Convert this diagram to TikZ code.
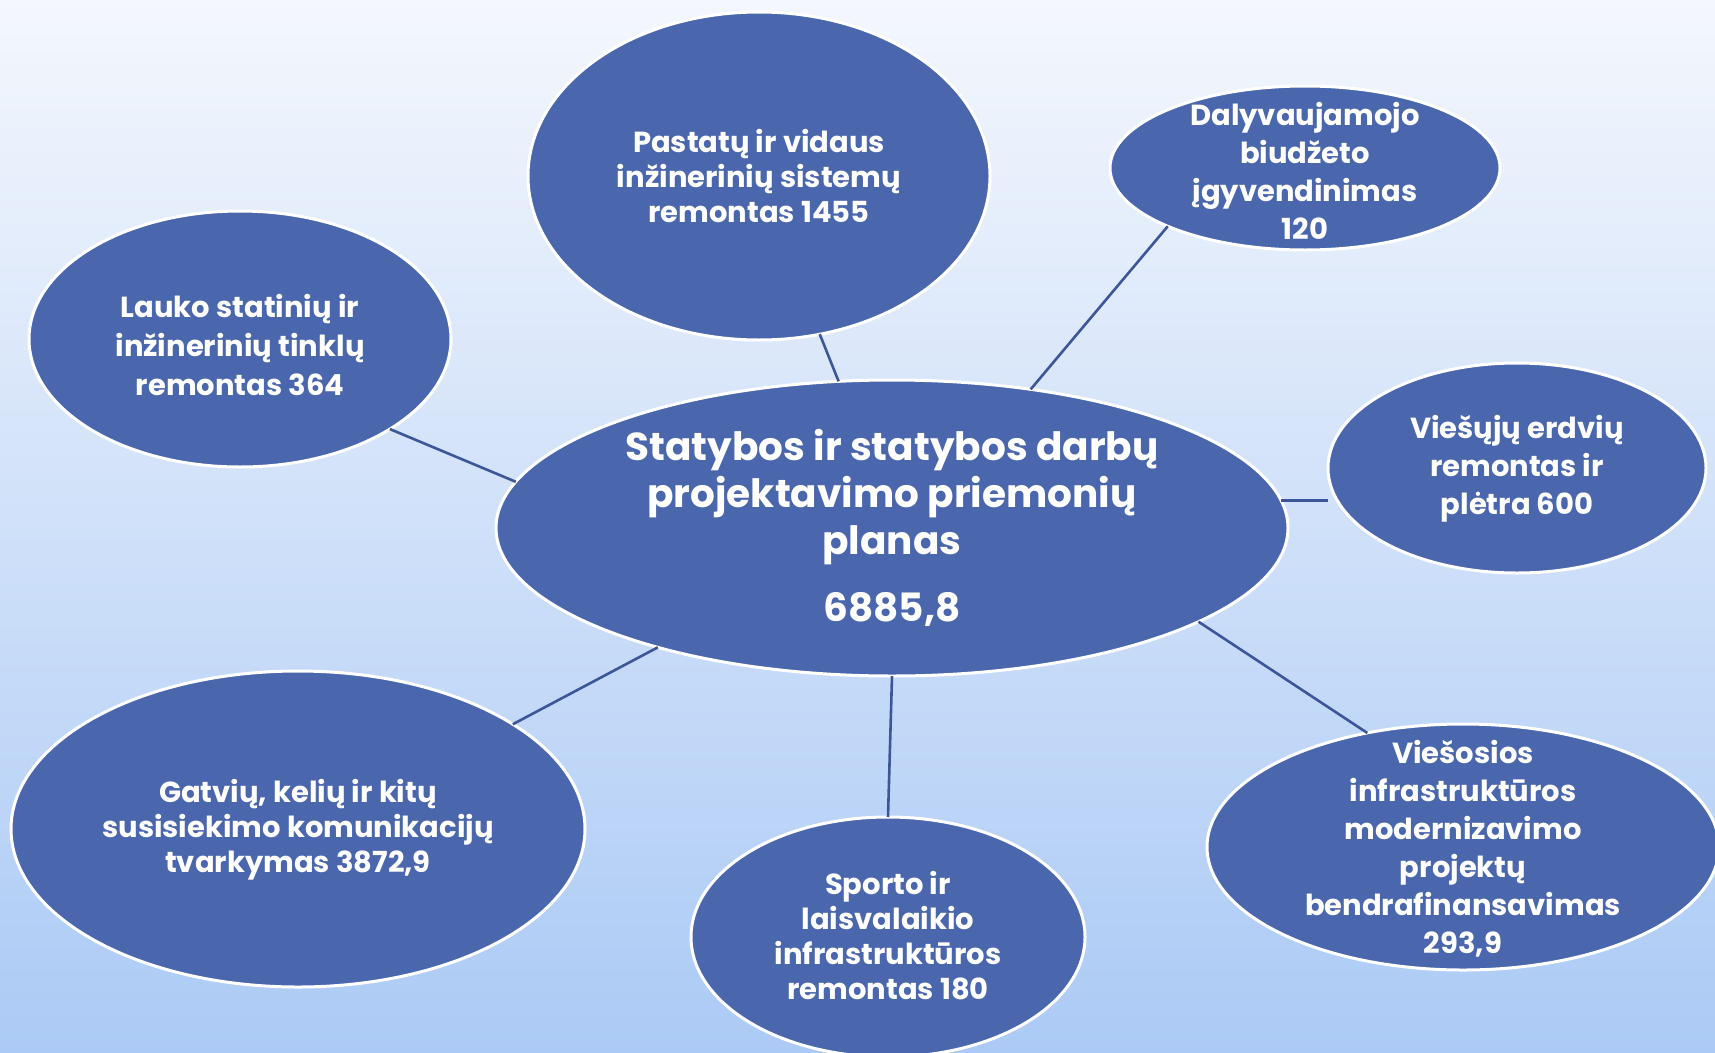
\documentclass[tikz,border=0pt]{standalone}
\usepackage{fontspec}
\setmainfont{Poppins}
\usetikzlibrary{shapes.geometric}
\definecolor{bgtop}{HTML}{F4F7FD}
\definecolor{bgbot}{HTML}{ABCAF5}
\definecolor{ellfill}{HTML}{4A66AD}
\definecolor{linkc}{HTML}{3C5699}
\tikzset{
  bubble/.style={ellipse, draw=white, line width=3pt, fill=ellfill, inner sep=0pt, outer sep=0pt},
  txt/.style={text=white, align=center, font=\bfseries\fontsize{29}{35}\selectfont},
  bigtxt/.style={text=white, align=center, font=\bfseries\fontsize{39}{47}\selectfont},
  link/.style={draw=linkc, line width=2.6pt}
}
\begin{document}
\begin{tikzpicture}[x=1pt,y=-1pt]
\useasboundingbox (0,0) rectangle (1715,1052);
\shade[top color=bgtop, bottom color=bgbot] (0,0) rectangle (1715,1052);
% bubbles
\node[bubble, minimum width=792pt, minimum height=296pt] (C) at (892,528) {};
\node[bubble, minimum width=462pt, minimum height=328pt] (P) at (759,176) {};
\node[bubble, minimum width=390pt, minimum height=164pt] (D) at (1305,168) {};
\node[bubble, minimum width=422pt, minimum height=256pt] (L) at (240,339) {};
\node[bubble, minimum width=378pt, minimum height=210pt] (V) at (1517,468) {};
\node[bubble, minimum width=574pt, minimum height=316pt] (G) at (298,829) {};
\node[bubble, minimum width=394pt, minimum height=240pt] (S) at (888,937) {};
\node[bubble, minimum width=512pt, minimum height=246pt] (M) at (1463,847) {};
% connectors
\draw[link] (P.-69.6) -- (C.110.5);
\draw[link] (D.203.7) -- (C.45.8);
\draw[link] (L.-31.4) -- (C.173.7);
\draw[link] (C.4.4) -- (V.west |- C.4.4);
\draw[link] (G.26.9) -- (C.207.1);
\draw[link] (S.90) -- (C.-90);
\draw[link] (M.130.5) -- (C.-17.8);
% texts
\node[bigtxt] (tC) at (892,528) {Statybos ir statybos darbų\\projektavimo priemonių\\planas\\[20pt]6885,8};
\node[txt] (tP) at (759,176) {Pastatų ir vidaus\\inžinerinių sistemų\\remontas 1455};
\node[txt, font=\bfseries\fontsize{29}{38}\selectfont] (tD) at (1305,171) {Dalyvaujamojo\\biudžeto\\įgyvendinimas\\120};
\node[txt, font=\bfseries\fontsize{29}{39}\selectfont] (tL) at (240,345) {Lauko statinių ir\\inžinerinių tinklų\\remontas 364};
\node[txt, font=\bfseries\fontsize{29}{38}\selectfont] (tV) at (1517,469) {Viešųjų erdvių\\remontas ir\\plėtra 600};
\node[txt] (tG) at (298,830) {Gatvių, kelių ir kitų\\susisiekimo komunikacijų\\tvarkymas 3872,9};
\node[txt] (tS) at (888,936) {Sporto ir\\laisvalaikio\\infrastruktūros\\remontas 180};
\node[txt, font=\bfseries\fontsize{29}{38}\selectfont] (tM) at (1463,849) {Viešosios\\infrastruktūros\\modernizavimo\\projektų\\bendrafinansavimas\\293,9};
\end{tikzpicture}
\end{document}
